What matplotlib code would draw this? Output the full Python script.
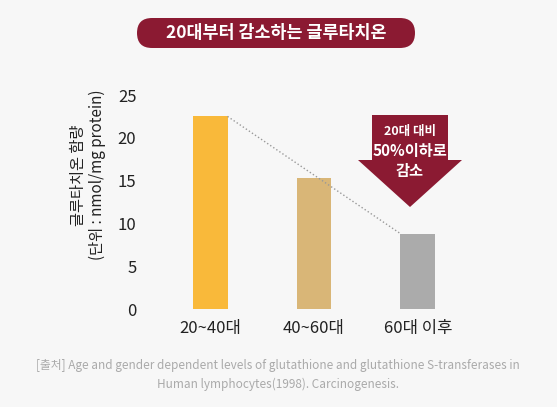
import matplotlib
matplotlib.use("Agg")
import matplotlib.pyplot as plt
from matplotlib.patches import FancyBboxPatch, Polygon
from matplotlib.lines import Line2D

plt.rcParams['font.family'] = ['Noto Sans CJK KR', 'DejaVu Sans']

categories = ['20~40대', '40~60대', '60대 이후']
values = [22.5, 15.3, 8.8]
colors = ['#F9B93A', '#D9B677', '#ABABAB']
yticks = [0, 5, 10, 15, 20, 25]

W, H = 557, 407
fig = plt.figure(figsize=(W/100, H/100), dpi=100)
bg = '#F7F7F7'
fig.patch.set_facecolor(bg)

def fx(px): return px / W
def fy(py): return 1 - py / H

ax = fig.add_axes([fx(153), fy(309), fx(475) - fx(153), fy(95) - fy(309)])
ax.set_facecolor(bg)
x = list(range(len(categories)))
ax.bar(x, values, width=0.335, color=colors)
ax.set_xlim(-0.55, 2.55)
ax.set_ylim(0, 25)
ax.set_yticks(yticks)
ax.set_xticks(x)
ax.set_xticklabels(categories)
ax.tick_params(length=0, labelsize=12, colors='#222222')
ax.tick_params(axis='y', pad=12)
ax.tick_params(axis='x', pad=8)
for s in ax.spines.values():
    s.set_visible(False)
# dotted trend line
ax.plot([0 + 0.1675, 2 - 0.1675], [values[0], values[2]], ls=':', color='#999999', lw=1)

fig.text(fx(88), fy(175), '글루타치온 함량\n(단위 : nmol/mg protein)', rotation=90,
         ha='center', va='center', fontsize=11, color='#222222', linespacing=1.2)

# title pill
pill = FancyBboxPatch((fx(137), fy(48)), fx(415) - fx(137), fy(18) - fy(48),
                      boxstyle='round,pad=0,rounding_size=0.027', transform=fig.transFigure,
                      facecolor='#8B1A32', edgecolor='none', mutation_aspect=W/H)
fig.patches.append(pill)
fig.text(fx(276), fy(33), '20대부터 감소하는 글루타치온', ha='center', va='center',
         color='white', fontsize=12.5, fontweight='bold')

# arrow
pts = [(372, 115), (448, 115), (448, 160), (462, 160), (410, 207), (358, 160), (372, 160)]
arrow = Polygon([(fx(a), fy(b)) for a, b in pts], closed=True, transform=fig.transFigure,
                facecolor='#8B1A32', edgecolor='none')
fig.patches.append(arrow)
fig.text(fx(410), fy(131), '20대 대비', ha='center', va='center', color='white', fontsize=9, fontweight='bold')
fig.text(fx(410), fy(151), '50%이하로', ha='center', va='center', color='white', fontsize=11, fontweight='bold')
fig.text(fx(410), fy(171), '감소', ha='center', va='center', color='white', fontsize=11, fontweight='bold')

fig.text(fx(278), fy(366), '[출처] Age and gender dependent levels of glutathione and glutathione S-transferases in',
         ha='center', va='center', color='#AAAAAA', fontsize=8.5)
fig.text(fx(278), fy(384), 'Human lymphocytes(1998). Carcinogenesis.',
         ha='center', va='center', color='#AAAAAA', fontsize=8.5)

fig.savefig('out.png', dpi=100, facecolor=bg)
